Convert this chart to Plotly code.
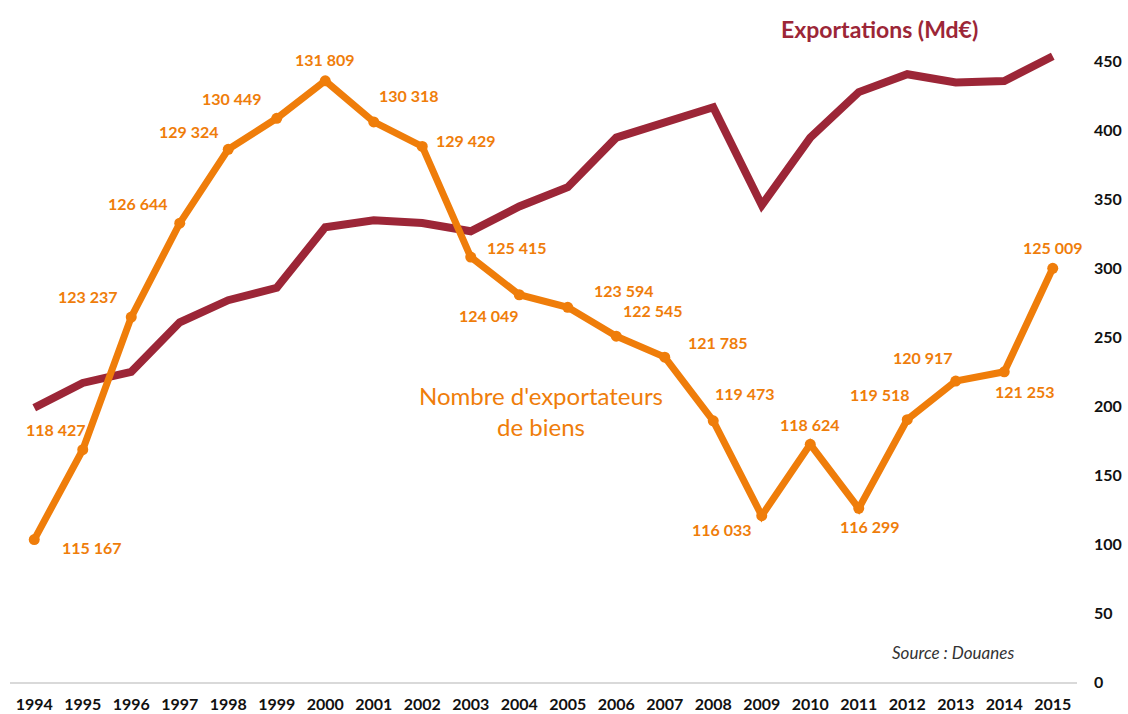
import plotly.graph_objects as go

# data
years = list(range(1994, 2016))
exportateurs = [115167, 118427, 123237, 126644, 129324, 130449, 131809, 130318,
                129429, 125415, 124049, 123594, 122545, 121785, 119473, 116033,
                118624, 116299, 119518, 120917, 121253, 125009]
exportations = [199, 217, 225, 261, 277, 286, 330, 335, 333, 327, 345, 359,
                395, 406, 417, 346, 395, 428, 441, 435, 436, 454]
right_ticks = [0, 50, 100, 150, 200, 250, 300, 350, 400, 450]

# pixel offsets of the value labels around each orange point
label_offsets = [(58, -8), (-27, 20), (-43, 21), (-42, 20), (-39, 18), (-45, 20),
                 (0, 21), (35, 26), (44, 6), (46, 10), (-30, -21), (56, 17),
                 (37, 26), (53, 15), (32, 27), (-40, -14), (0, 20), (11, -18),
                 (-27, 25), (-33, 24), (21, -20), (0, 21)]

ORANGE = "#EF7D0A"
RED = "#9C2637"
FONT = "Lato"

W, H = 1128, 714
L, R, T, B = 10, 51, 48, 32


def px_to_paper(x, y):
    # pixel position in the page (from top-left) -> paper coordinates
    return (x - L) / (W - L - R), (H - y - B) / (H - T - B)


fig = go.Figure()

fig.add_trace(go.Scatter(x=years, y=exportations, mode="lines", yaxis="y",
                         line=dict(color=RED, width=8), hoverinfo="skip"))
fig.add_trace(go.Scatter(x=years, y=exportateurs, mode="lines+markers", yaxis="y2",
                         line=dict(color=ORANGE, width=7),
                         marker=dict(color=ORANGE, size=11), hoverinfo="skip"))

annotations = []
for yr, v, (dx, dy) in zip(years, exportateurs, label_offsets):
    annotations.append(dict(x=yr, y=v, xref="x", yref="y2", showarrow=False,
                            text=f"{v:,}".replace(",", " "), xshift=dx, yshift=dy,
                            xanchor="center", yanchor="middle",
                            font=dict(family=FONT, size=16, color=ORANGE, weight="bold")))

texts = [
    ("Exportations (Md€)", 879, 29, dict(family=FONT, size=23, color=RED, weight="bold")),
    ("Nombre d'exportateurs<br>de biens", 541, 411, dict(family=FONT, size=24, color=ORANGE)),
    ("<i>Source : Douanes</i>", 953, 652, dict(family=FONT, size=17, color="#333333")),
]
for txt, px, py, f in texts:
    ax, ay = px_to_paper(px, py)
    annotations.append(dict(x=ax, y=ay, xref="paper", yref="paper", showarrow=False,
                            text=txt, align="center", xanchor="center", yanchor="middle",
                            font=f))

fig.update_layout(
    width=W, height=H,
    margin=dict(l=L, r=R, t=T, b=B, autoexpand=False),
    plot_bgcolor="white", paper_bgcolor="white",
    showlegend=False,
    annotations=annotations,
    xaxis=dict(range=[1993.5, 2015.5], tickvals=years, ticks="", automargin=False,
               showgrid=False, zeroline=False, showline=True,
               linecolor="#D9D9D9", linewidth=1.5, ticklabelstandoff=7,
               tickfont=dict(family=FONT, size=16, color="#111111", weight="bold")),
    yaxis=dict(range=[0, 460], side="right", tickvals=right_ticks, ticks="", automargin=False,
               showgrid=False, zeroline=False, showline=False, ticklabelstandoff=16,
               tickfont=dict(family=FONT, size=16, color="#111111", weight="bold")),
    yaxis2=dict(range=[110000, 133000], overlaying="y", visible=False),
)

fig.write_html("out.html", config={"displayModeBar": False},
               post_script="document.body.style.margin='0';")
